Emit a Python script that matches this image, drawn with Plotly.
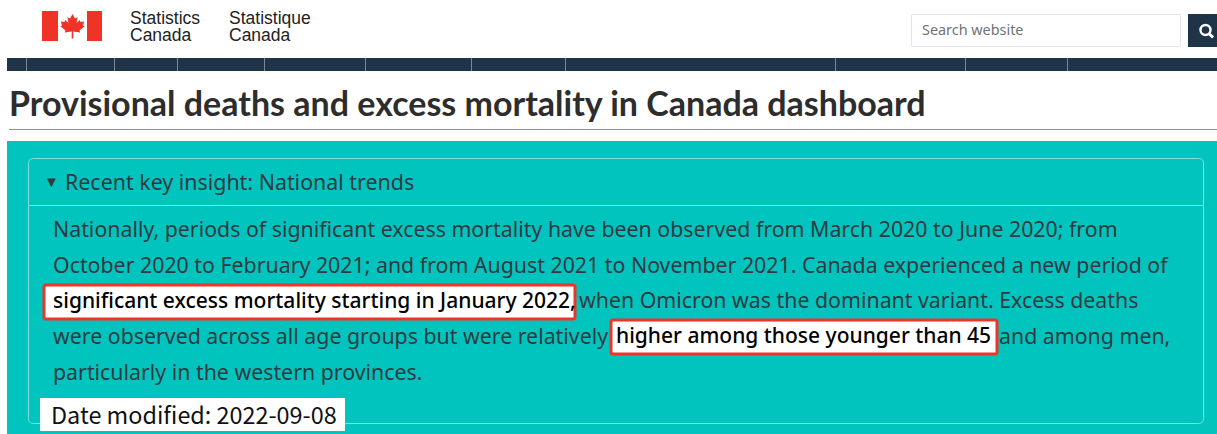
import plotly.graph_objects as go

BODY = "Noto Sans"
DARK = "#2e3a42"
NAVY = "#1f3349"
TEAL = "#00c4bd"
RED = "#ef3326"

org_en = ["Statistics", "Canada"]
org_fr = ["Statistique", "Canada"]
search_hint = "Search website"
page_title = "Provisional deaths and excess mortality in Canada dashboard"
summary_marker = "▼"
summary_title = "Recent key insight: National trends"
body_lines = [
    "Nationally, periods of significant excess mortality have been observed from March 2020 to June 2020; from",
    "October 2020 to February 2021; and from August 2021 to November 2021. Canada experienced a new period of",
    None,
    None,
    "particularly in the western provinces.",
]
highlight_1 = "significant excess mortality starting in January 2022,"
after_1 = "when Omicron was the dominant variant. Excess deaths"
before_2 = "were observed across all age groups but were relatively"
highlight_2 = "higher among those younger than 45"
after_2 = "and among men,"
date_text = "Date modified: 2022-09-08"
nav_separators = [26, 114, 177, 264, 365, 471, 565, 835, 965, 1067]

shapes = []
annotations = []


def rect(x0, y0, x1, y1, fill, line=None, lw=0):
    shapes.append(dict(type="rect", xref="x", yref="y", x0=x0, y0=y0, x1=x1, y1=y1,
                       fillcolor=fill, line=dict(color=line or fill, width=lw), layer="below"))


def rrect(x0, y0, x1, y1, r, fill, line, lw):
    p = (f"M{x0+r},{y0} L{x1-r},{y0} Q{x1},{y0} {x1},{y0+r} L{x1},{y1-r} Q{x1},{y1} {x1-r},{y1} "
         f"L{x0+r},{y1} Q{x0},{y1} {x0},{y1-r} L{x0},{y0+r} Q{x0},{y0} {x0+r},{y0} Z")
    shapes.append(dict(type="path", xref="x", yref="y", path=p, fillcolor=fill,
                       line=dict(color=line, width=lw), layer="below"))


def text(x, y, s, size, color=DARK, font=BODY, bold=False, weight=None):
    f = dict(family=font, size=size, color=color)
    if weight:
        f["weight"] = weight
    annotations.append(dict(x=x, y=y, xref="x", yref="y", text=f"<b>{s}</b>" if bold else s,
                            showarrow=False, xanchor="left", yanchor="middle",
                            font=f, borderpad=0, borderwidth=0))


# flag
rect(42, 11, 58, 41, RED)
rect(87, 11, 102, 41, RED)
leaf = ("M72.5,14 L75,18.5 L77.5,17.2 L76.6,23 L79.8,20 L80.6,22 L84.2,21.4 L83,25.4 L84.6,26.2 "
        "L79.5,30.4 L80.2,32.4 L73.2,31.6 L73.4,38.5 L71.6,38.5 L71.8,31.6 L64.8,32.4 L65.5,30.4 "
        "L60.4,26.2 L62,25.4 L60.8,21.4 L64.4,22 L65.2,20 L68.4,23 L67.5,17.2 L70,18.5 Z")
shapes.append(dict(type="path", xref="x", yref="y", path=leaf, fillcolor=RED, line=dict(width=0), layer="below"))

text(130, 18, org_en[0], 17.5, "#222222", "Liberation Sans")
text(130, 35, org_en[1], 17.5, "#222222", "Liberation Sans")
text(228.5, 18, org_fr[0], 17.5, "#222222", "Liberation Sans")
text(228.5, 35, org_fr[1], 17.5, "#222222", "Liberation Sans")

# search
rect(911.5, 14.5, 1180.5, 46.5, "#ffffff", "#e6e6e6", 1)
text(922, 29.5, search_hint, 14.4, "#6f7376")
rect(1188, 14, 1217, 47, NAVY)
shapes.append(dict(type="circle", xref="x", yref="y", x0=1200.5, y0=25, x1=1210.5, y1=35,
                   fillcolor="rgba(0,0,0,0)", line=dict(color="#ffffff", width=2.4)))
shapes.append(dict(type="line", xref="x", yref="y", x0=1208.5, y0=33, x1=1213, y1=37.5,
                   line=dict(color="#ffffff", width=3)))

# nav bar
rect(7, 58, 1217, 71, NAVY)
for sx in nav_separators:
    shapes.append(dict(type="line", xref="x", yref="y", x0=sx + 0.5, y0=58, x1=sx + 0.5, y1=71,
                       line=dict(color="#7d8894", width=1)))

# title
text(9, 102.5, page_title, 34, "#2d2d2d", "Lato", bold=True)
shapes.append(dict(type="line", xref="x", yref="y", x0=9, y0=129.5, x1=1217, y1=129.5,
                   line=dict(color="#d5706c", width=1)))

# panel
rect(7, 141, 1217, 434, TEAL)
rrect(28.5, 158.5, 1203.5, 423.5, 5, TEAL, "#7edfdb", 1)
shapes.append(dict(type="line", xref="x", yref="y", x0=29, y0=205.5, x1=1203, y1=205.5,
                   line=dict(color="#7edfdb", width=1)))
text(44, 181, summary_marker, 15)
text(65, 181, summary_title, 21.4)

LINE_Y = [228, 264, 299.5, 335, 371]
SIZE = 21.33
text(53, LINE_Y[0], body_lines[0], SIZE)
text(53, LINE_Y[1], body_lines[1], SIZE)
rrect(44, 285, 575, 319, 2, "#ffffff", RED, 3)
text(53, LINE_Y[2], highlight_1, 21, "#000000", weight=500)
text(579, LINE_Y[2], after_1, SIZE)
text(53, LINE_Y[3], before_2, SIZE)
rrect(611, 320, 997, 354, 2, "#ffffff", RED, 3)
text(616, LINE_Y[3], highlight_2, 21, "#000000", weight=500)
text(999, LINE_Y[3], after_2, SIZE)
text(53, LINE_Y[4], body_lines[4], SIZE)

rect(40, 398, 345, 431, "#ffffff")
text(51, 413.5, date_text, 23.4, "#111111", "Noto Sans CJK KR")

fig = go.Figure()
fig.update_layout(
    width=1217, height=434, margin=dict(l=0, r=0, t=0, b=0, pad=0),
    paper_bgcolor="#ffffff", plot_bgcolor="#ffffff", showlegend=False,
    xaxis=dict(range=[0, 1217], visible=False, fixedrange=True),
    yaxis=dict(range=[434, 0], visible=False, fixedrange=True),
    shapes=shapes, annotations=annotations,
)
fig.write_html("out.html", config={"displayModeBar": False}, post_script="document.body.style.margin='0';")
